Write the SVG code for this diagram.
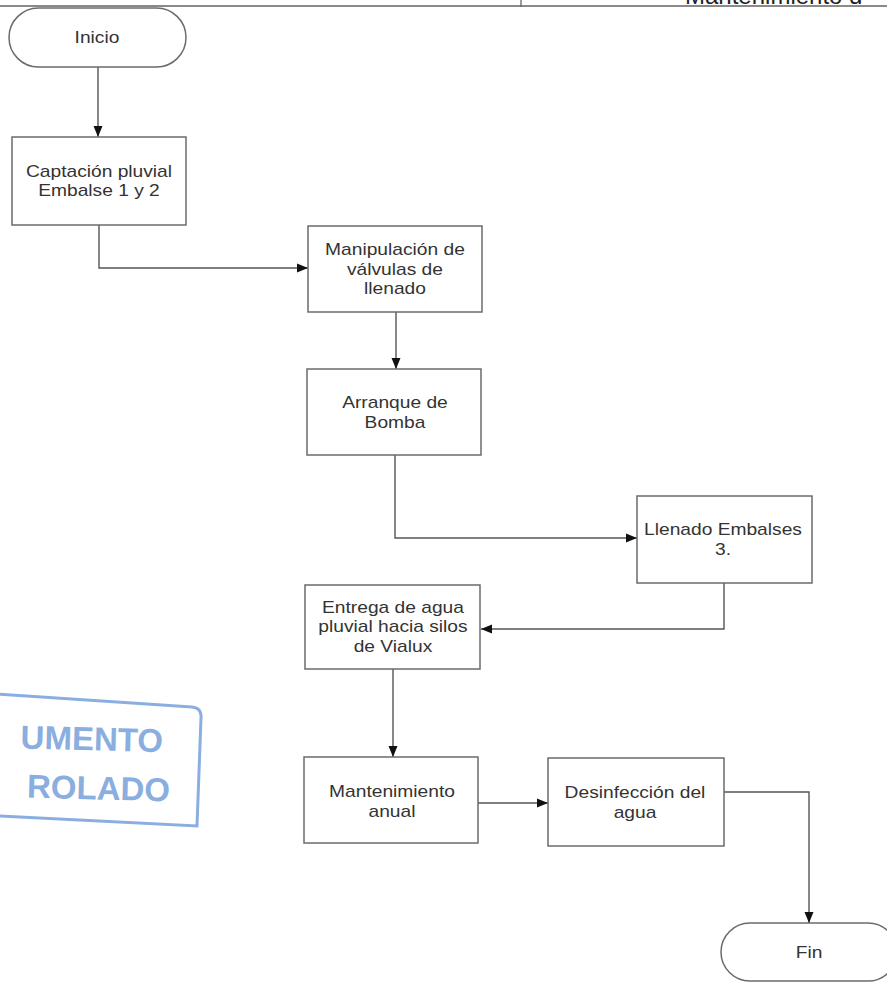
<svg xmlns="http://www.w3.org/2000/svg" width="887" height="982" viewBox="0 0 887 982">
<defs>
<style>
.box{fill:#ffffff;stroke:#6b6b6b;stroke-width:1.5}
.t{font-family:"Liberation Sans",Arial,sans-serif;font-size:16px;fill:#333;text-anchor:middle;transform-box:fill-box;transform-origin:center;transform:scaleX(1.2)}
.c{fill:none;stroke:#555;stroke-width:1.4}
.st{font-family:"Liberation Sans",Arial,sans-serif;font-weight:bold;font-size:33px;fill:#8aaee0;text-anchor:end}
</style>
<marker id="ah" markerUnits="userSpaceOnUse" markerWidth="12" markerHeight="10" refX="11" refY="5" orient="auto">
<path d="M0,0.5 L11,5 L0,9.5 Z" fill="#111"/>
</marker>
</defs>
<rect width="887" height="982" fill="#ffffff"/>
<g id="header">
<line x1="0" y1="6" x2="887" y2="6" stroke="#8a8a8a" stroke-width="2"/>
<line x1="521" y1="0" x2="521" y2="7" stroke="#666" stroke-width="1.3"/>
<text x="685" y="4" font-family="Liberation Sans,Arial,sans-serif" font-size="24" fill="#222">Mantenimiento d</text>
</g>
<g id="stamp">
<path d="M-20,693 L192,707 Q202,708 201,718 L197,826 L-20,815" fill="none" stroke="#8aaee0" stroke-width="3"/>
<text class="st" x="163" y="750" transform="rotate(1.5 80 740)">UMENTO</text>
<text class="st" x="170" y="799" transform="rotate(1.5 80 790)">ROLADO</text>
</g>
<g id="connectors">
<path class="c" d="M98,67 V137" marker-end="url(#ah)"/>
<path class="c" d="M99,225 V268 H308" marker-end="url(#ah)"/>
<path class="c" d="M396,312 V369" marker-end="url(#ah)"/>
<path class="c" d="M395,455 V538 H637" marker-end="url(#ah)"/>
<path class="c" d="M724,583 V629 H481" marker-end="url(#ah)"/>
<path class="c" d="M393,669 V757" marker-end="url(#ah)"/>
<path class="c" d="M478,803 H548" marker-end="url(#ah)"/>
<path class="c" d="M724,792 H809 V923" marker-end="url(#ah)"/>
</g>
<g id="inicio">
<rect class="box" x="9" y="8" width="177" height="59" rx="29.5"/>
<text class="t" x="97" y="43">Inicio</text>
</g>
<g id="captacion">
<rect class="box" x="12" y="137" width="174" height="88"/>
<text class="t" x="99" y="177">Captación pluvial</text>
<text class="t" x="99" y="196">Embalse 1 y 2</text>
</g>
<g id="manipulacion">
<rect class="box" x="308" y="226" width="174" height="86"/>
<text class="t" x="395" y="255">Manipulación de</text>
<text class="t" x="395" y="275">válvulas de</text>
<text class="t" x="395" y="294">llenado</text>
</g>
<g id="arranque">
<rect class="box" x="307" y="369" width="174" height="86"/>
<text class="t" x="395" y="408">Arranque de</text>
<text class="t" x="395" y="428">Bomba</text>
</g>
<g id="llenado">
<rect class="box" x="637" y="496" width="175" height="87"/>
<text class="t" x="723" y="535">Llenado Embalses</text>
<text class="t" x="723" y="555">3.</text>
</g>
<g id="entrega">
<rect class="box" x="305" y="585" width="175" height="84"/>
<text class="t" x="393" y="613">Entrega  de agua</text>
<text class="t" x="393" y="632">pluvial hacia silos</text>
<text class="t" x="393" y="652">de Vialux</text>
</g>
<g id="mantenimiento">
<rect class="box" x="304" y="757" width="174" height="86"/>
<text class="t" x="392" y="797">Mantenimiento</text>
<text class="t" x="392" y="817">anual</text>
</g>
<g id="desinfeccion">
<rect class="box" x="548" y="758" width="176" height="88"/>
<text class="t" x="635" y="798">Desinfección del</text>
<text class="t" x="635" y="818">agua</text>
</g>
<g id="fin">
<rect class="box" x="721" y="923" width="176" height="58" rx="29"/>
<text class="t" x="809" y="958">Fin</text>
</g>
</svg>
